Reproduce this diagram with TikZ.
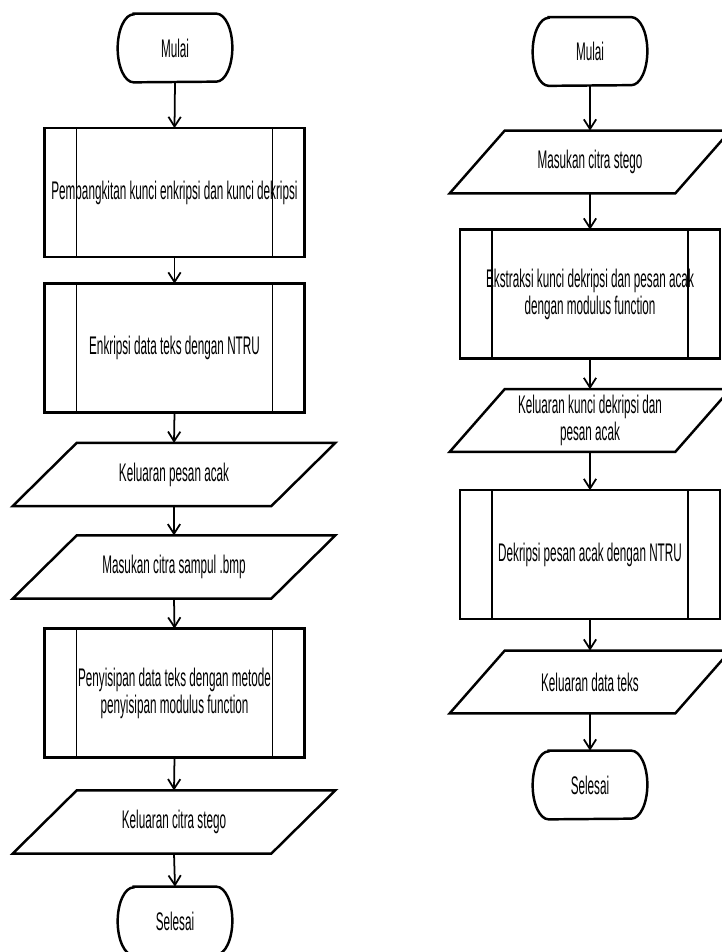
\documentclass[tikz,border=0pt]{standalone}
\usepackage{fontspec}
\newfontfamily\flowfont{Liberation Sans}[FakeStretch=0.46]
\usepackage{tikz}
\usetikzlibrary{arrows.meta,calc}
\tikzset{
  box/.style={draw=none,inner sep=0pt,align=center,font=\flowfont\fontsize{14.5}{15.3}\selectfont},
  term/.style={box,minimum width=2.28cm,minimum height=1.36cm},
  proc/.style={box,minimum width=5.18cm,minimum height=2.56cm},
  ioleft/.style={box,minimum width=6.44cm,minimum height=1.25cm},
  ioright/.style={box,minimum width=5.6cm,minimum height=1.24cm},
  outline/.style={line width=1.4pt,line join=miter},
  flow/.style={line width=1pt,-{Straight Barb[length=5.5pt,width=7pt]}}
}
%shapes drawn round the named nodes
\newcommand{\termshape}[1]{\draw[outline] ($(#1.north west)+(16,0)$) -- ($(#1.north east)+(-16,0)$) arc[start angle=-90,end angle=90,x radius=16,y radius=34] -- ($(#1.south west)+(16,0)$) arc[start angle=90,end angle=270,x radius=16,y radius=34] -- cycle;}
\newcommand{\procshape}[1]{\draw[outline] (#1.north west) rectangle (#1.south east);
  \draw[thick] ($(#1.north west)+(32,0)$) -- ($(#1.south west)+(32,0)$);
  \draw[thick] ($(#1.north east)+(-32,0)$) -- ($(#1.south east)+(-32,0)$);}
\newcommand{\ioshape}[2]{\draw[outline] ($(#1.north west)+(#2,0)$) -- (#1.north east) -- ($(#1.south east)+(-#2,0)$) -- (#1.south west) -- cycle;}
\begin{document}
\begin{tikzpicture}[x=0.02cm,y=-0.02cm]
\useasboundingbox (0,0) rectangle (721,952);
%left flow: encryption and embedding
\node[term] (mulaiA) at (175,48) {Mulai}; \termshape{mulaiA}
\node[proc] (kunci) at (174.5,192.5) {Pembangkitan kunci enkripsi dan kunci dekripsi}; \procshape{kunci}
\node[proc] (enkripsi) at (174.5,348) {Enkripsi data teks dengan NTRU}; \procshape{enkripsi}
\node[ioleft] (acakA) at (174,474.5) {Keluaran pesan acak}; \ioshape{acakA}{64}
\node[ioleft] (sampul) at (174,567) {Masukan citra sampul .bmp}; \ioshape{sampul}{64}
\node[proc] (sisip) at (174.5,693) {Penyisipan data teks dengan metode\\penyisipan modulus function}; \procshape{sisip}
\node[ioleft] (stegoA) at (174,822) {Keluaran citra stego}; \ioshape{stegoA}{64}
\node[term] (selesaiA) at (175,921) {Selesai}; \termshape{selesaiA}
\draw[flow] (mulaiA.south) -- (kunci.north);
\draw[flow] (kunci.south) -- (enkripsi.north);
\draw[flow] (enkripsi.south) -- (acakA.north);
\draw[flow] (acakA.south) -- (sampul.north);
\draw[flow] (sampul.south) -- (sisip.north);
\draw[flow] (sisip.south) -- (stegoA.north);
\draw[flow] (stegoA.south) -- (selesaiA.north);
%right flow: extraction and decryption
\node[term] (mulaiB) at (590,51.5) {Mulai}; \termshape{mulaiB}
\node[ioright] (stegoB) at (590,162) {Masukan citra stego}; \ioshape{stegoB}{55}
\node[proc] (ekstrak) at (590,294) {Ekstraksi kunci dekripsi dan pesan acak\\dengan modulus function}; \procshape{ekstrak}
\node[ioright] (acakB) at (590,420.5) {Keluaran kunci dekripsi dan\\pesan acak}; \ioshape{acakB}{55}
\node[proc] (dekripsi) at (590,554.5) {Dekripsi pesan acak dengan NTRU}; \procshape{dekripsi}
\node[ioright] (teks) at (590,682) {Keluaran data teks}; \ioshape{teks}{55}
\node[term] (selesaiB) at (590,785) {Selesai}; \termshape{selesaiB}
\draw[flow] (mulaiB.south) -- (stegoB.north);
\draw[flow] (stegoB.south) -- (ekstrak.north);
\draw[flow] (ekstrak.south) -- (acakB.north);
\draw[flow] (acakB.south) -- (dekripsi.north);
\draw[flow] (dekripsi.south) -- (teks.north);
\draw[flow] (teks.south) -- (selesaiB.north);
\end{tikzpicture}
\end{document}
